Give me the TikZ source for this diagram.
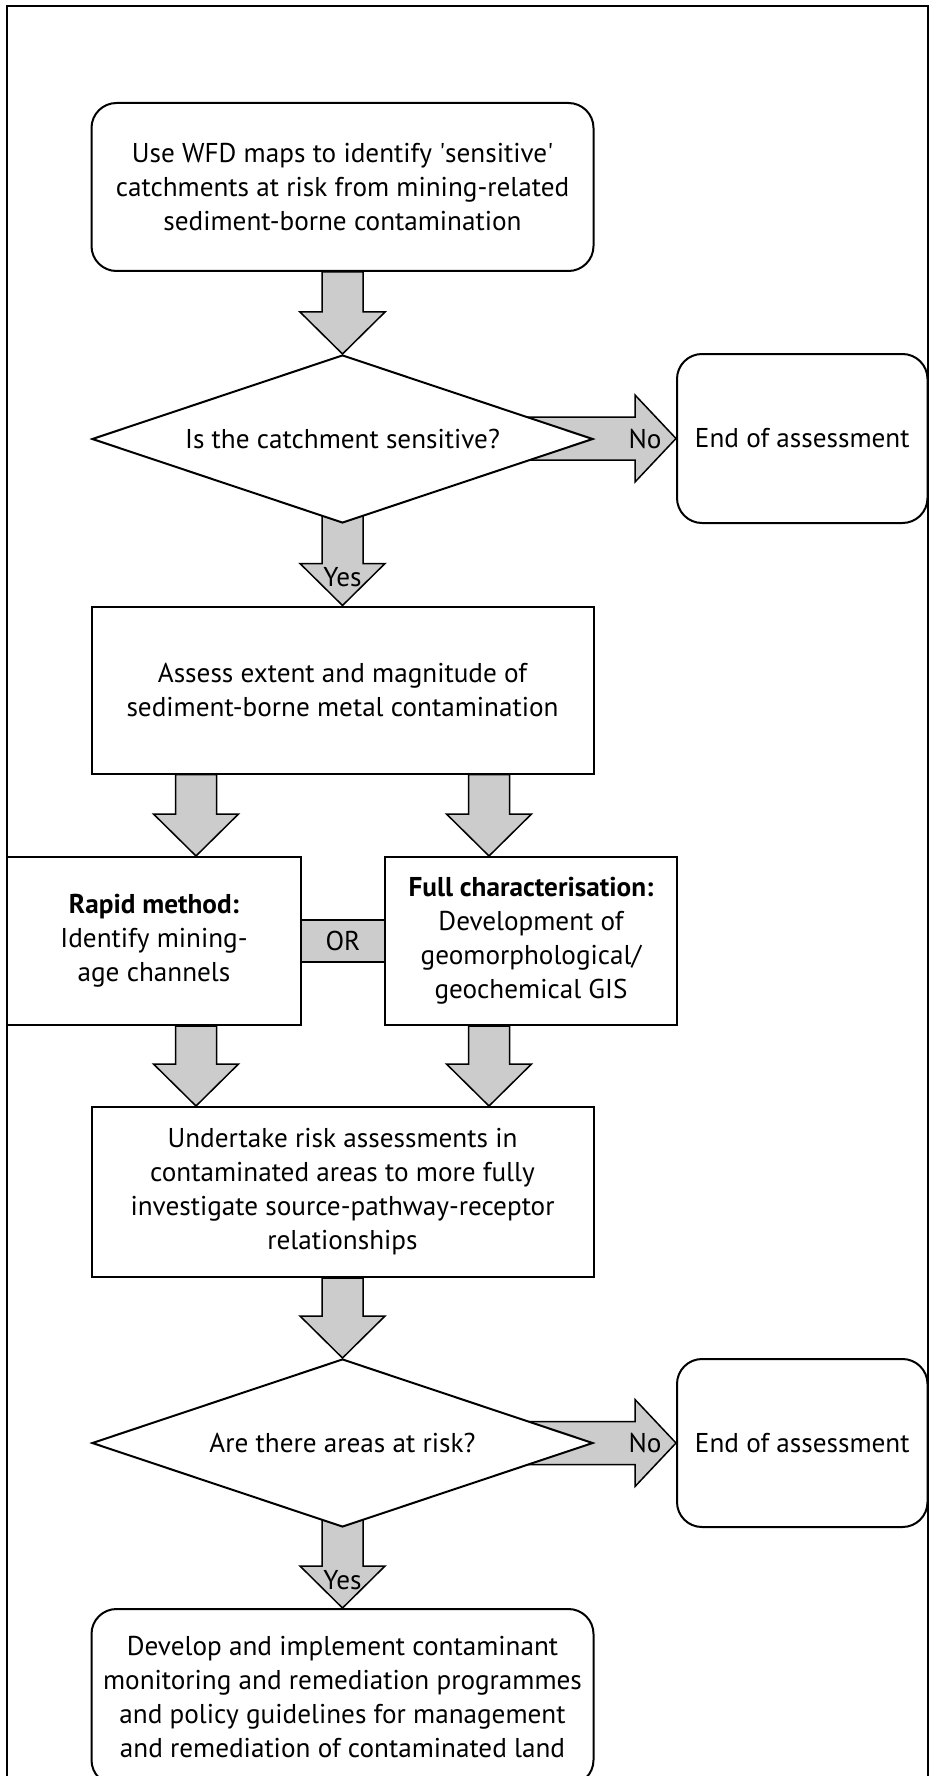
\documentclass[tikz,border=0pt]{standalone}
\usepackage{fontspec}
\setmainfont{PT Sans}
\usetikzlibrary{shapes.geometric,calc,backgrounds}
\definecolor{arrowgray}{HTML}{CCCCCC}
\newcommand{\varr}[2]{%
  \draw[blockarrow] let \p1=#1, \p2=#2 in
    (\x2-20.5pt,\y1) -- (\x2-20.5pt,\y2+42pt) -- (\x2-42.5pt,\y2+42pt) -- (\x2,\y2)
    -- (\x2+42.5pt,\y2+42pt) -- (\x2+20.5pt,\y2+42pt) -- (\x2+20.5pt,\y1) -- cycle;}
\newcommand{\harr}[2]{%
  \draw[blockarrow] let \p1=#1, \p2=#2 in
    (\x1,\y2+21.5pt) -- (\x2-41pt,\y2+21.5pt) -- (\x2-41pt,\y2+43.5pt) -- (\x2,\y2)
    -- (\x2-41pt,\y2-43.5pt) -- (\x2-41pt,\y2-21.5pt) -- (\x1,\y2-21.5pt) -- cycle;}
\begin{document}
\begin{tikzpicture}[x=1pt,y=-1pt,
  every node/.style={font=\fontsize{27.2}{34}\selectfont, align=center, inner sep=0pt},
  boxbase/.style={draw, line width=2pt, fill=white, rectangle},
  rbox/.style={boxbase, rounded corners=25pt},
  sbox/.style={boxbase},
  dbox/.style={draw, line width=2pt, fill=white, diamond, aspect=2.982, minimum width=501pt, minimum height=168pt, inner sep=0pt},
  blockarrow/.style={draw, line width=1.5pt, fill=arrowgray, line join=miter},
  lbl/.style={font=\fontsize{27.2}{34}\selectfont}]
\useasboundingbox (0,0) rectangle (930,1776);
\draw[line width=2pt] (7,6) rectangle (927.5,1830);

\node[rbox, minimum width=502pt, minimum height=168pt] (b1) at (342.5,187)
  {Use WFD maps to identify \textquotesingle sensitive\textquotesingle\\catchments at risk from mining-related\\sediment-borne contamination};
\node[dbox] (d1) at (342.5,439) {Is the catchment sensitive?};
\node[rbox, minimum width=250.5pt, minimum height=169pt] (e1) at (802.25,438.5) {End of assessment};
\node[sbox, minimum width=502pt, minimum height=167pt] (b2) at (342.5,690)
  {Assess extent and magnitude of\\sediment-borne metal contamination};
\node[sbox, minimum width=294pt, minimum height=168pt] (rapid) at (154,941)
  {\textbf{Rapid method:}\\Identify mining-\\age channels};
\node[sbox, minimum width=292pt, minimum height=168pt] (full) at (531,941)
  {\textbf{Full characterisation:}\\Development of\\geomorphological/\\geochemical GIS};
\node[draw, line width=2pt, fill=arrowgray, minimum width=84pt, minimum height=42pt] (or)
  at ($(rapid.east)!0.5!(full.west)$) {OR};
\node[sbox, minimum width=502pt, minimum height=170pt] (b3) at (342.5,1192)
  {Undertake risk assessments in\\contaminated areas to more fully\\investigate source-pathway-receptor\\relationships};
\node[dbox] (d2) at (342.5,1443) {Are there areas at risk?};
\node[rbox, minimum width=250.5pt, minimum height=168pt] (e2) at (802.25,1443) {End of assessment};
\node[rbox, minimum width=502pt, minimum height=176pt] (b4) at (342.5,1697)
  {Develop and implement contaminant\\monitoring and remediation programmes\\and policy guidelines for management\\and remediation of contaminated land};

\coordinate (lx) at (196,0);
\coordinate (rx) at (489,0);

\begin{scope}[on background layer]
  \varr{(b1.south)}{(d1.north)}
  \varr{(d1.center)}{(b2.north)}
  \harr{(d1.center)}{(e1.west)}
  \varr{(b2.south -| lx)}{(rapid.north -| lx)}
  \varr{(b2.south -| rx)}{(full.north -| rx)}
  \varr{(rapid.south -| lx)}{(b3.north -| lx)}
  \varr{(full.south -| rx)}{(b3.north -| rx)}
  \varr{(b3.south)}{(d2.north)}
  \harr{(d2.center)}{(e2.west)}
  \varr{(d2.center)}{(b4.north)}
\end{scope}

\node[lbl] (yes1) at ($(b2.north)+(0,-28)$) {Yes};
\node[lbl] (no1) at ($(e1.west)+(-31,0)$) {No};
\node[lbl] (no2) at ($(e2.west)+(-31,0)$) {No};
\node[lbl] (yes2) at ($(b4.north)+(0,-28)$) {Yes};
\end{tikzpicture}
\end{document}
